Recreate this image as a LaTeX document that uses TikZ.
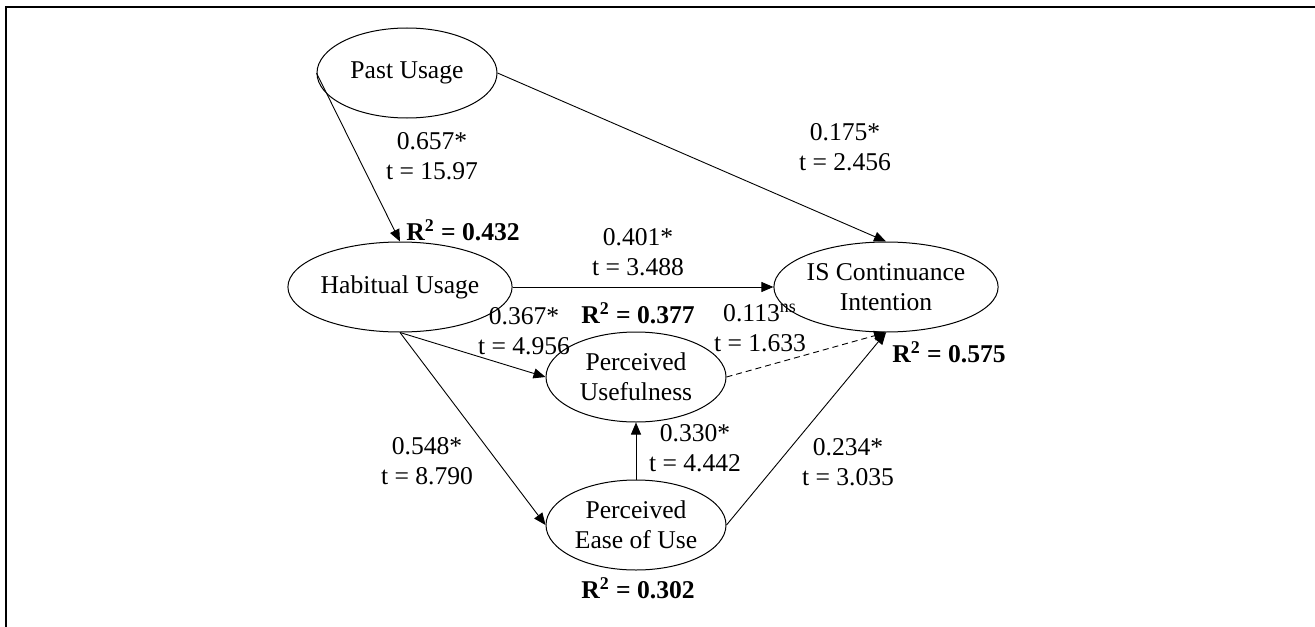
\documentclass[tikz,border=0pt]{standalone}
\usepackage{fontspec}
\setmainfont{Liberation Serif}
\usetikzlibrary{shapes.geometric,arrows.meta}
\begin{document}
\begin{tikzpicture}[x=0.5pt,y=-0.5pt,
 every node/.append style={font=\fontsize{12.8}{15}\selectfont},
 latent/.style={draw,ellipse,minimum width=90pt,minimum height=45pt,inner sep=0pt,align=center,line width=0.5pt},
 lbl/.style={align=center,inner sep=0pt},
 rsq/.style={inner sep=0pt,font=\fontsize{12.8}{15}\selectfont\bfseries},
 conn/.style={-{Triangle[length=6pt,width=5pt]},line width=0.45pt},
 nsconn/.style={conn,dash pattern=on 3pt off 2pt}]
\useasboundingbox (0,0) rectangle (1315,626);
\begin{scope}
\clip (0,0) rectangle (1315,626);
\draw[line width=1.1pt] (6,660) -- (6,7) -- (1340,7);
\end{scope}
% constructs
\node[latent] (past) at (407,73) {Past Usage};
\node[latent] (hab) at (400,287) {Habitual Usage};
\node[latent] (pu) at (636,377) {Perceived\\Usefulness};
\node[latent] (isc) at (886,287) {IS Continuance\\Intention};
\node[latent] (peou) at (636,525) {Perceived\\Ease of Use};
% paths
\draw[conn] (past.west) -- (hab.north);
\draw[conn] (past.east) -- (isc.north);
\draw[conn] (hab.east) -- (isc.west);
\draw[conn] (hab.south) -- (pu.west);
\draw[conn] (hab.south) -- (peou.west);
\draw[conn] (peou.north) -- (pu.south);
\draw[nsconn] (pu.east) -- (isc.south);
\draw[conn] (peou.east) -- (isc.south);
% labels
\node[lbl] (l1) at (432,156) {0.657*\\t = 15.97};
\node[rsq] (r1) at (463,230) {R\textsuperscript{2} = 0.432};
\node[lbl] (l2) at (845,147) {0.175*\\t = 2.456};
\node[lbl] (l3) at (638,252) {0.401*\\t = 3.488};
\node[lbl] (l4) at (524,331) {0.367*\\t = 4.956};
\node[rsq] (r2) at (638,313) {R\textsuperscript{2} = 0.377};
\node[lbl] (l5) at (760,328) {0.113\textsuperscript{ns}\\t = 1.633};
\node[rsq] (r3) at (949,352) {R\textsuperscript{2} = 0.575};
\node[lbl] (l6) at (427,461) {0.548*\\t = 8.790};
\node[lbl] (l7) at (695,448) {0.330*\\t = 4.442};
\node[lbl] (l8) at (848,462) {0.234*\\t = 3.035};
\node[rsq] (r4) at (638,588) {R\textsuperscript{2} = 0.302};
\end{tikzpicture}
\end{document}
